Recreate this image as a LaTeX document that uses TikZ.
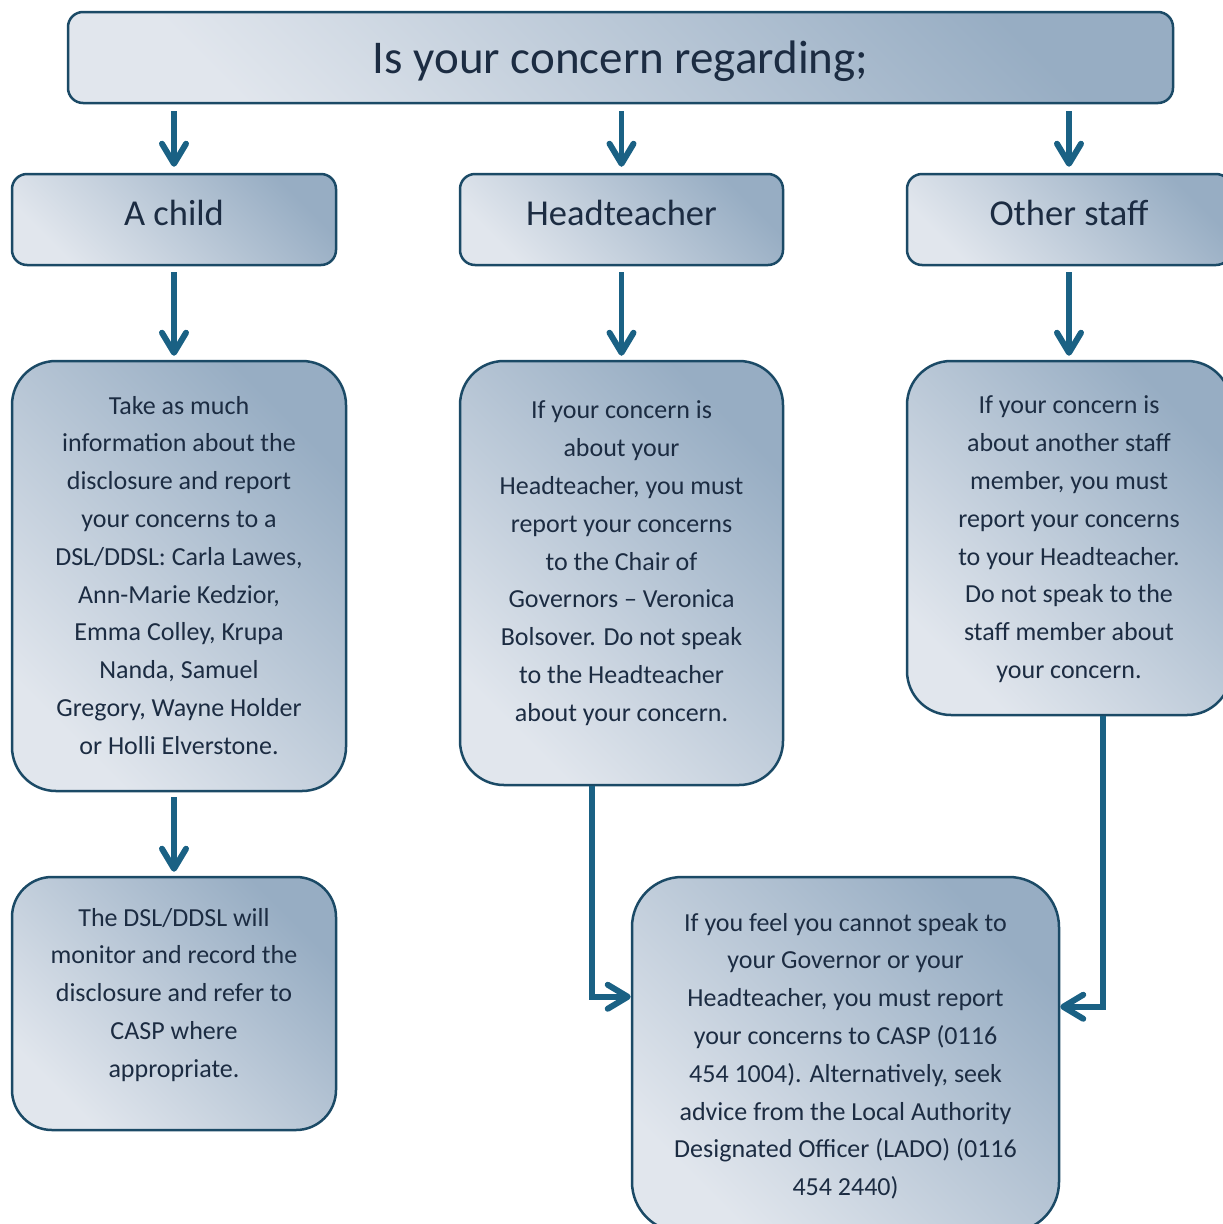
\documentclass[tikz,border=0pt]{standalone}
\usepackage{fontspec}
\setmainfont{Carlito}
\usetikzlibrary{arrows.meta,positioning}
\definecolor{boxlight}{HTML}{E1E6ED}
\definecolor{boxdark}{HTML}{97ADC3}
\definecolor{boxline}{HTML}{1B4A66}
\definecolor{arrowblue}{HTML}{1A6184}
\definecolor{txtcol}{HTML}{1C2C42}

\begin{document}
\begin{tikzpicture}[x=1pt, y=-1pt,
  box/.style={draw=boxline, line width=2.5pt, rounded corners=15pt, left color=boxlight, right color=boxdark, shading angle=135, text=txtcol, inner sep=0pt},
  bigbox/.style={box, rounded corners=44pt},
  headfont/.style={font=\fontsize{36.5}{44}\selectfont, text height=26pt, text depth=15pt},
  txt/.style={text=txtcol, align=center, inner sep=0pt, font=\fontsize{26}{37.8}\selectfont},
  arr/.style={draw=arrowblue, line width=5.5pt, -{Straight Barb[length=20pt,width=24pt,round,line width=6pt]}}]
\clip (0,0) rectangle (1223,1224);

\node[box, minimum width=1105pt, minimum height=91pt, font=\fontsize{47}{56}\selectfont, text height=35pt, text depth=4pt] (top) at (620.5,57.5) {Is your concern regarding;};

\node[box, headfont, minimum width=324pt, minimum height=91pt] (childhd) at (174,219.5) {A child};
\node[box, headfont, minimum width=323pt, minimum height=91pt] (headhd) at (621.5,219.5) {Headteacher};
\node[box, headfont, minimum width=324pt, minimum height=91pt] (otherhd) at (1069,219.5) {Other staff};

\node[bigbox, minimum width=334pt, minimum height=430pt] (child) at (179,576) {};
\node[bigbox, minimum width=323pt, minimum height=424pt] (head) at (621.5,573) {};
\node[bigbox, minimum width=324pt, minimum height=354pt] (other) at (1069,538) {};
\node[bigbox, rounded corners=40pt, minimum width=324pt, minimum height=253pt] (dsl) at (174,1003.5) {};
\node[bigbox, rounded corners=50pt, minimum width=427pt, minimum height=355pt] (lado) at (845.5,1054.5) {};

\node[txt, below=36pt of child.north] (childtxt) {Take as much\\ information about the\\ disclosure and report\\ your concerns to a\\ DSL/DDSL: Carla Lawes,\\ Ann-Marie Kedzior,\\ Emma Colley, Krupa\\ Nanda, Samuel\\ Gregory, Wayne Holder\\ or Holli Elverstone.};
\node[txt, below=41pt of head.north] (headtxt) {If your concern is\\ about your\\ Headteacher, you must\\ report your concerns\\ to the Chair of\\ Governors – Veronica\\ Bolsover. Do not speak\\ to the Headteacher\\ about your concern.};
\node[txt, below=36pt of other.north] (othertxt) {If your concern is\\ about another staff\\ member, you must\\ report your concerns\\ to your Headteacher.\\ Do not speak to the\\ staff member about\\ your concern.};
\node[txt, below=32pt of dsl.north] (dsltxt) {The DSL/DDSL will\\ monitor and record the\\ disclosure and refer to\\ CASP where\\ appropriate.};
\node[txt, below=37pt of lado.north] (ladotxt) {If you feel you cannot speak to\\ your Governor or your\\ Headteacher, you must report\\ your concerns to CASP (0116\\ 454 1004). Alternatively, seek\\ advice from the Local Authority\\ Designated Officer (LADO) (0116\\ 454 2440)};

% arrows
\draw[arr, shorten <=7pt, shorten >=6pt] (childhd.north |- top.south) -- (childhd.north);
\draw[arr, shorten <=7pt, shorten >=6pt] (headhd.north |- top.south) -- (headhd.north);
\draw[arr, shorten <=7pt, shorten >=6pt] (otherhd.north |- top.south) -- (otherhd.north);
\draw[arr, shorten <=6pt, shorten >=4pt] (childhd.south) -- (childhd.south |- child.north);
\draw[arr, shorten <=6pt, shorten >=4pt] (headhd.south) -- (headhd.south |- head.north);
\draw[arr, shorten <=6pt, shorten >=4pt] (otherhd.south) -- (otherhd.south |- other.north);
\draw[arr, shorten <=5pt, shorten >=4pt] (dsl.north |- child.south) -- (dsl.north);
\draw[arr] ([xshift=-29.5pt]head.south) |- ([yshift=-121pt]lado.north west);
\draw[arr] ([xshift=34pt]other.south) |- ([yshift=-131pt]lado.north east);
\end{tikzpicture}
\end{document}
